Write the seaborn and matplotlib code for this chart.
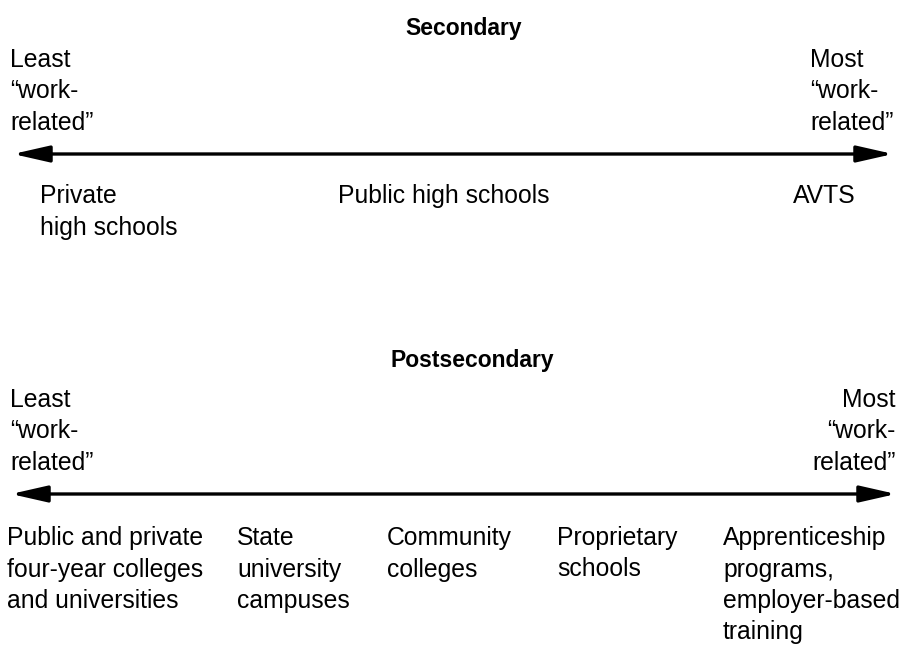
import matplotlib
matplotlib.use("Agg")
import matplotlib.pyplot as plt
import seaborn as sns

# continuum labels
panel_titles = ["Secondary", "Postsecondary"]
least_label = "Least\n\u201cwork-\nrelated\u201d"
most_label = "Most\n\u201cwork-\nrelated\u201d"

secondary_types = ["Private\nhigh schools", "Public high schools", "AVTS"]
postsecondary_types = [
    "Public and private\nfour-year colleges\nand universities",
    "State\nuniversity\ncampuses",
    "Community\ncolleges",
    "Proprietary\nschools",
    "Apprenticeship\nprograms,\nemployer-based\ntraining",
]

# layout (pixel coordinates, y down)
title_x = [464, 472]
title_y = [35, 367]
end_y = [67, 407]
arrow_y = [154, 494]
arrow_x = [(13, 893), (11, 896)]
most_x = [810, 896]
most_ha = ["left", "right"]
sec_x = [40, 338, 793]
post_x = [7, 237, 387, 557, 723]
label_y = [203, 545]

FS = 17.8
PITCH = 31.5


def put_lines(ax, x, y, txt, ha="left", weight="normal"):
    # one text per line so line pitch matches the scan
    for i, line in enumerate(txt.split("\n")):
        ax.text(x, y + i * PITCH, line, ha=ha, va="baseline",
                fontsize=FS, fontweight=weight, color="black")


sns.set_style("white")
plt.rcParams["font.family"] = ["Liberation Sans", "DejaVu Sans"]
plt.rcParams["text.color"] = "black"

fig = plt.figure(figsize=(9.02, 6.46), dpi=100)
ax = fig.add_axes([0, 0, 1, 1])
ax.set_xlim(0, 902)
ax.set_ylim(646, 0)
ax.axis("off")

groups = [(secondary_types, sec_x), (postsecondary_types, post_x)]
for k in range(2):
    ax.text(title_x[k], title_y[k], panel_titles[k], ha="center",
            va="baseline", fontsize=16.5, fontweight="bold", color="black")
    put_lines(ax, 10, end_y[k], least_label)
    put_lines(ax, most_x[k], end_y[k], most_label, ha=most_ha[k])

    x0, x1 = arrow_x[k]
    ax.annotate("", xy=(x1, arrow_y[k]), xytext=(x0, arrow_y[k]),
                arrowprops=dict(arrowstyle="<|-|>,head_length=1.1,head_width=0.25",
                                mutation_scale=20, lw=2.4, color="black",
                                shrinkA=0, shrinkB=0))

    labels, xs = groups[k]
    for lab, x in zip(labels, xs):
        put_lines(ax, x, label_y[k], lab)

fig.savefig("out.png", dpi=100, facecolor="white")
